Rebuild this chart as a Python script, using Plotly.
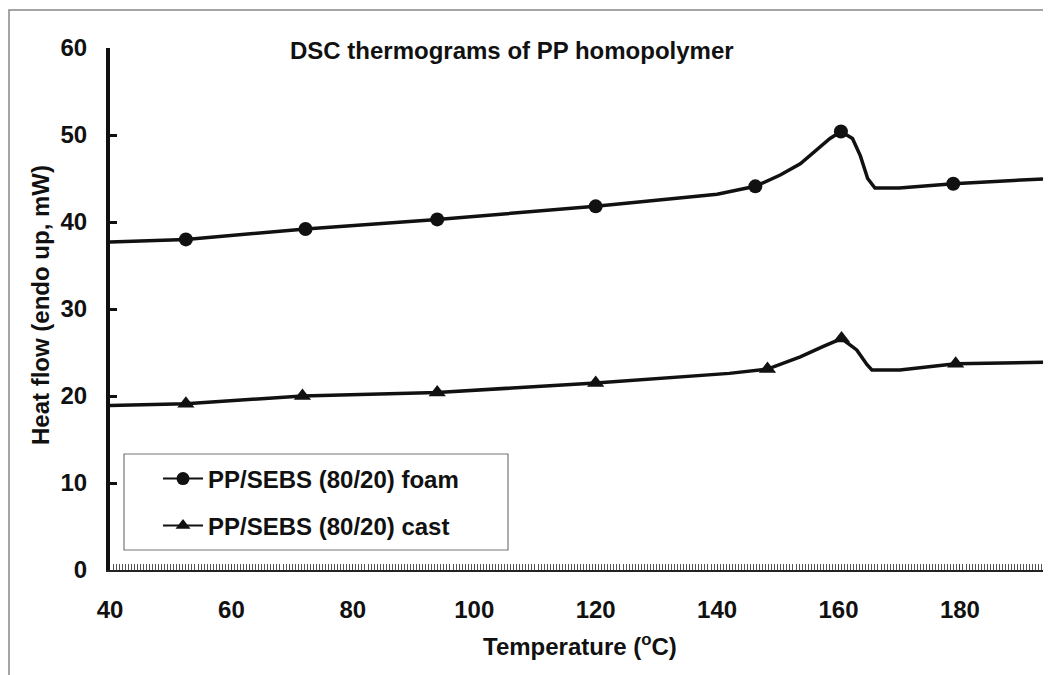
import plotly.graph_objects as go

# DSC thermogram curves (temperature in C, heat flow in mW)
foam_temp = [40, 52.5, 72.2, 93.9, 120.0, 140.0, 146.3, 150.4, 153.7, 156.4, 158.6, 160.4,
             162.3, 163.6, 164.8, 166.0, 170.0, 178.9, 195]
foam_heat = [37.7, 38.0, 39.2, 40.3, 41.8, 43.2, 44.1, 45.4, 46.7, 48.3, 49.6, 50.4,
             49.6, 47.6, 45.0, 43.9, 43.9, 44.4, 45.0]
foam_mark_temp = [52.5, 72.2, 93.9, 120.0, 146.3, 160.4, 178.9]
foam_mark_heat = [38.0, 39.2, 40.3, 41.8, 44.1, 50.4, 44.4]

cast_temp = [40, 52.5, 71.7, 93.9, 120.0, 142.0, 148.3, 153.7, 157.5, 160.5, 163.0, 164.7,
             165.5, 170.1, 179.3, 195]
cast_heat = [18.9, 19.1, 20.0, 20.4, 21.5, 22.6, 23.1, 24.5, 25.7, 26.6, 25.3, 23.6,
             23.0, 23.0, 23.7, 23.9]
cast_mark_temp = [52.5, 71.7, 93.9, 120.0, 148.3, 160.5, 179.3]
cast_mark_heat = [19.1, 20.0, 20.4, 21.5, 23.1, 26.6, 23.7]

x_ticks = [40, 60, 80, 100, 120, 140, 160, 180]
y_ticks = [0, 10, 20, 30, 40, 50, 60]

FONT = "Liberation Sans, Arial, sans-serif"
INK = "#111111"
FS = 24

fig = go.Figure()

series = [
    ("PP/SEBS (80/20) foam", foam_temp, foam_heat, foam_mark_temp, foam_mark_heat, "circle", 14, "legend"),
    ("PP/SEBS (80/20) cast", cast_temp, cast_heat, cast_mark_temp, cast_mark_heat, "triangle-up", 15, "legend2"),
]
for name, tx, hy, mx, my, sym, msize, leg in series:
    fig.add_trace(go.Scatter(x=tx, y=hy, mode="lines", showlegend=False,
                             line=dict(color=INK, width=3.5)))
    fig.add_trace(go.Scatter(x=mx, y=my, mode="markers", showlegend=False,
                             marker=dict(symbol=sym, size=msize, color=INK)))
    # legend-only entry showing line + marker
    fig.add_trace(go.Scatter(x=[None], y=[None], mode="lines+markers", name=name, legend=leg,
                             line=dict(color=INK, width=2),
                             marker=dict(symbol=sym, size=13, color=INK)))

# the page body adds an 8px offset; positions below are given in screen pixels
OFF = 8
W, H = 1051, 675
L, R, T, B = 102, 8, 40, 113
pw, ph = W - L - R, H - T - B

def px(xs):
    return (xs - OFF - L) / pw

def py(ys):
    return (H - B - (ys - OFF)) / ph

legend_font = dict(family=FONT, size=FS, color=INK, weight="bold")

fig.update_layout(
    width=W, height=H,
    margin=dict(l=L, r=R, t=T, b=B),
    paper_bgcolor="white", plot_bgcolor="white",
    font=dict(family=FONT, size=FS, color=INK),
    xaxis=dict(range=[40, 195], tickvals=x_ticks, showgrid=False, zeroline=False,
               showline=True, linecolor="#222", linewidth=2,
               ticks="inside", ticklen=6, tickwidth=1, tickcolor="#444",
               minor=dict(dtick=0.5, ticks="inside", ticklen=6, tickwidth=1, tickcolor="#555"),
               ticklabelstandoff=17,
               tickfont=dict(family=FONT, size=FS, color=INK, weight="bold")),
    yaxis=dict(range=[0, 60], tickvals=y_ticks, showgrid=False, zeroline=False,
               showline=True, linecolor=INK, linewidth=4,
               ticks="inside", ticklen=7, tickwidth=3, tickcolor=INK,
               ticklabelstandoff=14,
               tickfont=dict(family=FONT, size=FS, color=INK, weight="bold")),
    legend=dict(x=px(158), y=py(479), xanchor="left", yanchor="middle",
                bgcolor="rgba(0,0,0,0)", borderwidth=0, font=legend_font, itemwidth=40),
    legend2=dict(x=px(158), y=py(526), xanchor="left", yanchor="middle",
                 bgcolor="rgba(0,0,0,0)", borderwidth=0, font=legend_font, itemwidth=40),
    shapes=[
        # legend box
        dict(type="rect", xref="paper", yref="paper",
             x0=px(124), x1=px(508), y0=py(550), y1=py(454),
             line=dict(color="#777", width=1.2)),
        # outer chart frame
        dict(type="rect", xref="paper", yref="paper",
             x0=px(9), x1=px(1070), y0=py(700), y1=py(10),
             line=dict(color="#888", width=1.5)),
    ],
    annotations=[
        dict(text="<b>DSC thermograms of PP homopolymer</b>", xref="paper", yref="paper",
             x=px(512), y=py(50), xanchor="center", yanchor="middle",
             showarrow=False, font=dict(size=FS)),
        dict(text="<b>Temperature (<sup>o</sup>C)</b>", xref="paper", yref="paper",
             x=px(580), y=py(645), xanchor="center", yanchor="middle",
             showarrow=False, font=dict(size=FS)),
        dict(text="<b>Heat flow (endo up, mW)</b>", xref="paper", yref="paper",
             x=px(40), y=py(305), xanchor="center", yanchor="middle",
             showarrow=False, textangle=-90, font=dict(size=FS)),
    ],
)

fig.write_html("out.html")
